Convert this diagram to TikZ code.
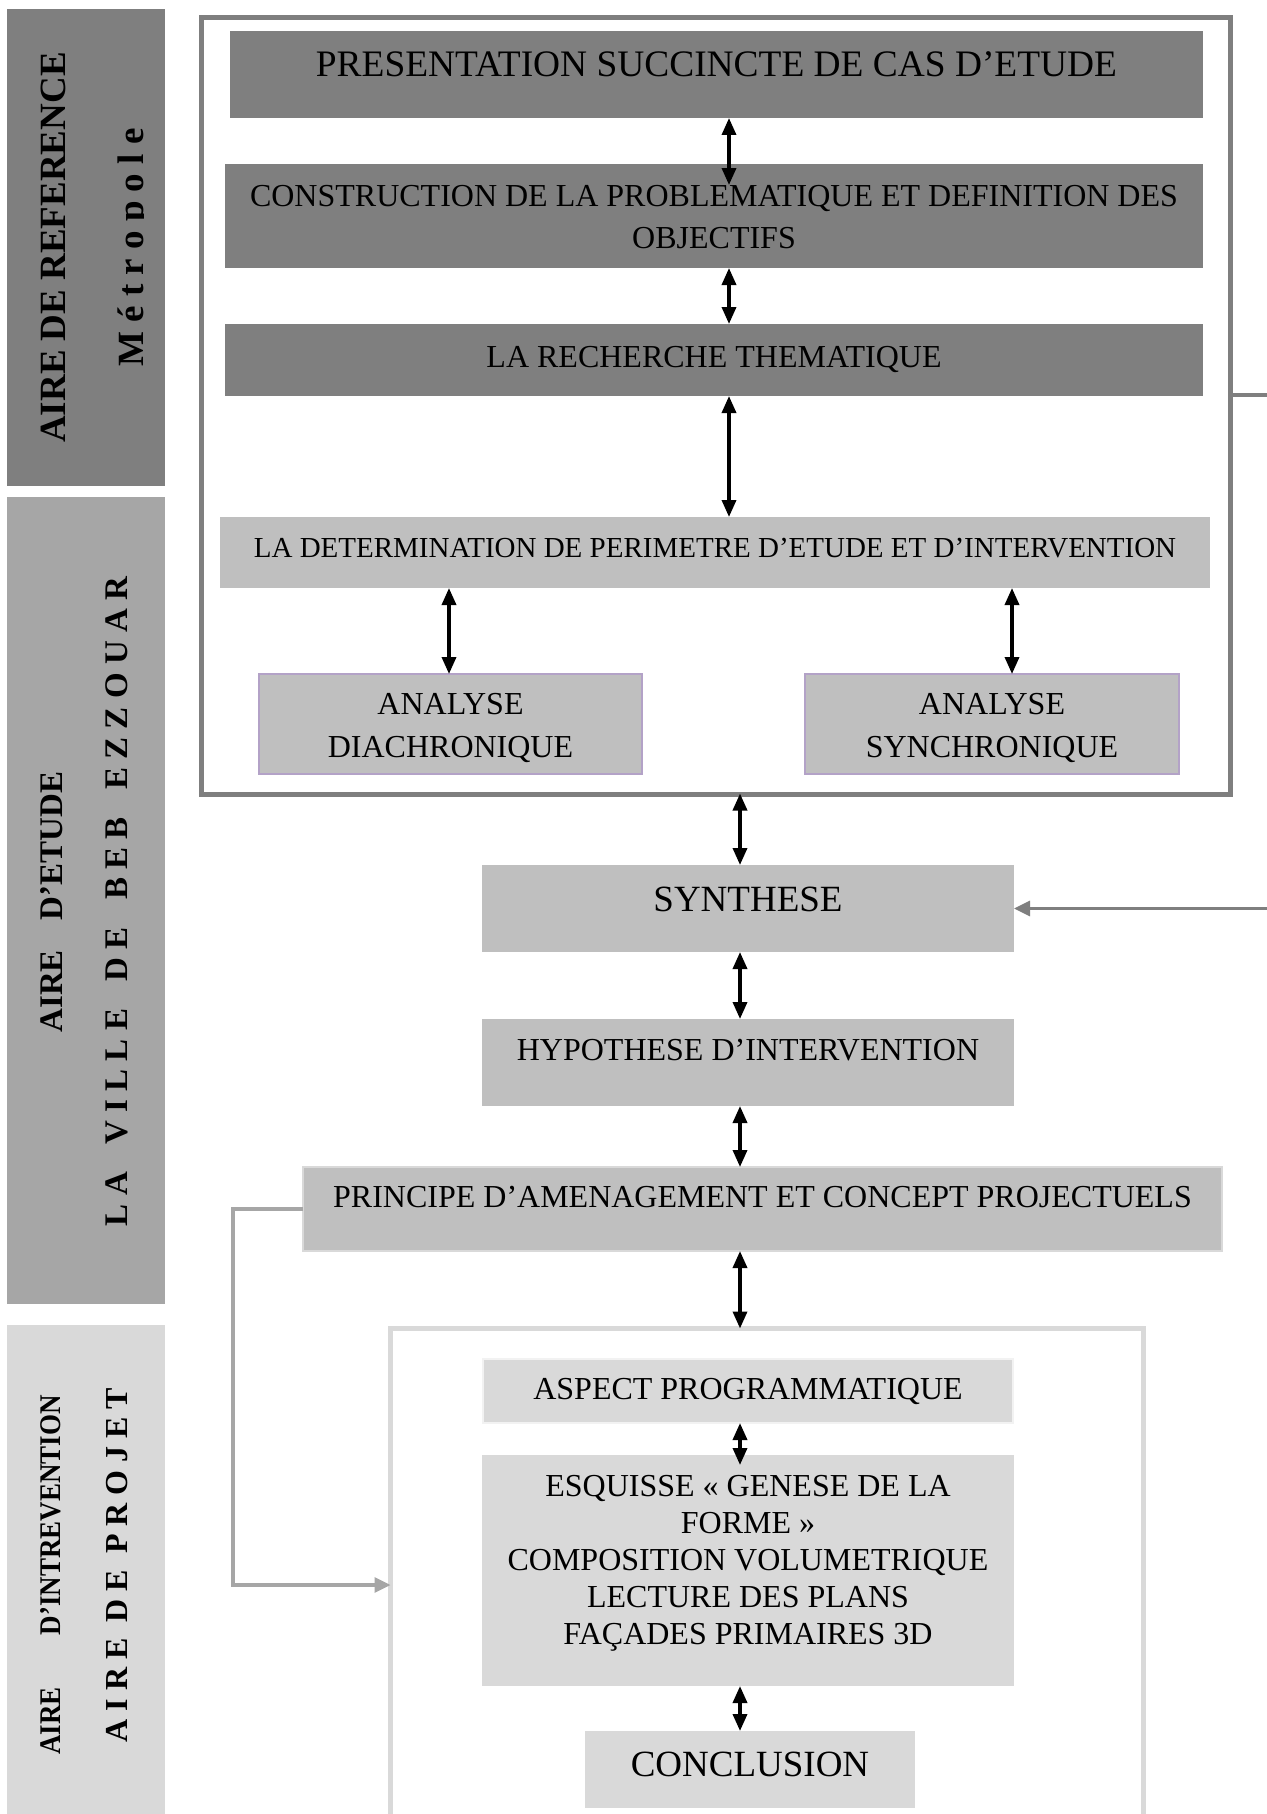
\documentclass[tikz,border=0pt]{standalone}
\usepackage{fontspec}
\setmainfont{Liberation Serif}
\usepackage{graphicx}
\usetikzlibrary{arrows.meta,fit,calc}
\definecolor{g7f}{HTML}{7F7F7F}
\definecolor{ga6}{HTML}{A6A6A6}
\definecolor{gbf}{HTML}{BFBFBF}
\definecolor{gd9}{HTML}{D9D9D9}
\definecolor{gf2}{HTML}{F2F2F2}
\definecolor{lav}{HTML}{B3A2C7}
\newcommand\wgap{\hspace{13.75pt}}
\begin{document}
\begin{tikzpicture}[x=0.5pt,y=-0.5pt,
  box/.style={inner sep=0pt, outer sep=0pt},
  darkbox/.style={box, fill=g7f},
  midbox/.style={box, fill=gbf},
  lightbox/.style={box, fill=gd9},
  txt/.style={inner sep=0pt, outer sep=0pt, anchor=base, text=black},
  bigf/.style={font=\fontsize{18.5pt}{22pt}\selectfont},
  normf/.style={font=\fontsize{16pt}{20pt}\selectfont},
  vtxt/.style={txt, rotate=90},
  dar/.style={{Triangle[length=8.5pt,width=7pt]}-{Triangle[length=8.5pt,width=7pt]}, line width=1.75pt, draw=black},
  gar/.style={-{Triangle[length=8pt,width=7.5pt]}, line width=1.6pt},
]
\useasboundingbox (0,0) rectangle (1267,1814);
\clip (0,0) rectangle (1267,1814);
\fill[white] (0,0) rectangle (1267,1814);

% left bars
\node[box, fill=g7f, fit={(7,9) (165,486)}] (bar1) {};
\node[box, fill=ga6, fit={(7,497) (165,1304)}] (bar2) {};
\node[box, fill=gd9, fit={(7,1325) (165,1830)}] (bar3) {};

\node[vtxt, font=\bfseries\fontsize{18.5pt}{22pt}\selectfont] (b1a) at (65,247.5) {AIRE DE REFERENCE};
\begin{scope}
  \clip (95,0) rectangle (143,486);
  \node[vtxt, font=\bfseries\fontsize{18.5pt}{22pt}\selectfont] (b1b) at (143,247.5) {M é t r o p o l e};
\end{scope}
\node[vtxt, font=\bfseries\fontsize{16.5pt}{20pt}\selectfont] (b2a) at (62,902) {AIRE\hspace{15pt}D’ETUDE};
\node[vtxt, font=\bfseries\fontsize{16.5pt}{20pt}\selectfont] (b2b) at (127,901.5) {L A\wgap V I L L E\wgap D E\wgap B E B\wgap E Z Z O U A R};
\node[vtxt, font=\bfseries\fontsize{15pt}{18pt}\selectfont] (b3a) at (60,1575) {\scalebox{0.9}[1]{AIRE\hspace{29pt}D’INTREVENTION}};
\node[vtxt, font=\bfseries\fontsize{16pt}{20pt}\selectfont] (b3b) at (127,1565) {A I R E~~D E~~P R O J E T};

% frames
\node[box, draw=g7f, line width=2.5pt, fit={(201.5,17.5) (1230.5,794.5)}] (frame) {};
\node[box, draw=gd9, line width=2.5pt, fit={(390.5,1328.5) (1143,1841.5)}] (frame2) {};

% boxes
\node[darkbox, fit={(230,31) (1203,118)}] (pres) {};
\node[darkbox, fit={(225,164) (1203,268)}] (cons) {};
\node[darkbox, fit={(225,324) (1203,396)}] (rech) {};
\node[midbox, fit={(220,517) (1210,588)}] (det) {};
\node[midbox, draw=lav, line width=1pt, fit={(259,674) (642,774)}] (diac) {};
\node[midbox, draw=lav, line width=1pt, fit={(805,674) (1179,774)}] (sync) {};
\node[midbox, fit={(482,865) (1014,952)}] (syn) {};
\node[midbox, fit={(482,1019) (1014,1106)}] (hyp) {};
\node[midbox, draw=gd9, line width=1pt, fit={(303,1167) (1222,1251)}] (prin) {};
\node[lightbox, draw=gf2, line width=1.2pt, fit={(483,1359) (1013,1423)}] (asp) {};
\node[lightbox, fit={(482,1455) (1014,1686)}] (esq) {};
\node[lightbox, fit={(585,1731) (915,1808)}] (conc) {};

% texts
\node[txt, font=\fontsize{18.7pt}{22pt}\selectfont] (pres-t) at (716.5,76) {PRESENTATION SUCCINCTE DE CAS D’ETUDE};
\node[txt, normf] (cons-t1) at (714,206) {CONSTRUCTION DE LA PROBLEMATIQUE ET DEFINITION DES};
\node[txt, normf] (cons-t2) at (714,248) {OBJECTIFS};
\node[txt, normf] (rech-t) at (714,367) {LA RECHERCHE THEMATIQUE};
\node[txt, font=\fontsize{14.5pt}{18pt}\selectfont] (det-t) at (715,557) {LA DETERMINATION DE PERIMETRE D’ETUDE ET D’INTERVENTION};
\node[txt, normf] (diac-t1) at (450.5,714) {ANALYSE};
\node[txt, normf] (diac-t2) at (450.5,757) {DIACHRONIQUE};
\node[txt, normf] (sync-t1) at (992,714) {ANALYSE};
\node[txt, normf] (sync-t2) at (992,757) {SYNCHRONIQUE};
\node[txt, bigf] (syn-t) at (748,911) {SYNTHESE};
\node[txt, normf] (hyp-t) at (748,1060) {HYPOTHESE D’INTERVENTION};
\node[txt, normf] (prin-t) at (762.5,1207) {PRINCIPE D’AMENAGEMENT ET CONCEPT PROJECTUELS};
\node[txt, normf] (asp-t) at (748,1399) {ASPECT PROGRAMMATIQUE};
\node[txt, normf] (esq-t1) at (748,1496) {ESQUISSE « GENESE DE LA};
\node[txt, normf] (esq-t2) at (748,1533) {FORME »};
\node[txt, normf] (esq-t3) at (748,1570) {COMPOSITION VOLUMETRIQUE};
\node[txt, normf] (esq-t4) at (748,1607) {LECTURE DES PLANS};
\node[txt, normf] (esq-t5) at (748,1644) {FAÇADES PRIMAIRES 3D};
\node[txt, bigf] (conc-t) at (750,1776) {CONCLUSION};

% arrow columns
\coordinate (xa) at (729,0);
\coordinate (xb) at (740,0);
\coordinate (xl) at (449,0);
\coordinate (xr) at (1012,0);

\draw[dar] (pres.south -| xa) -- ($(cons.north -| xa)+(0,21)$);
\draw[dar] (cons.south -| xa) -- (rech.north -| xa);
\draw[dar] (rech.south -| xa) -- (det.north -| xa);
\draw[dar] (det.south -| xl) -- (diac.north -| xl);
\draw[dar] (det.south -| xr) -- (sync.north -| xr);
\draw[dar] ($(frame.south -| xb)+(0,-1)$) -- (syn.north -| xb);
\draw[dar] (syn.south -| xb) -- (hyp.north -| xb);
\draw[dar] (hyp.south -| xb) -- (prin.north -| xb);
\draw[dar] (prin.south -| xb) -- (frame2.north -| xb);
\draw[dar] (asp.south -| xb) -- ($(esq.north -| xb)+(0,10)$);
\draw[dar] (esq.south -| xb) -- (conc.north -| xb);

% grey connectors
\draw[gar, draw=g7f] ($(frame.east)+(0,-11)$) -- ++(80,0) |- (syn.east);
\draw[gar, draw=ga6] (prin.west) -- ++(-70,0) |- (frame2.west);
\end{tikzpicture}
\end{document}
